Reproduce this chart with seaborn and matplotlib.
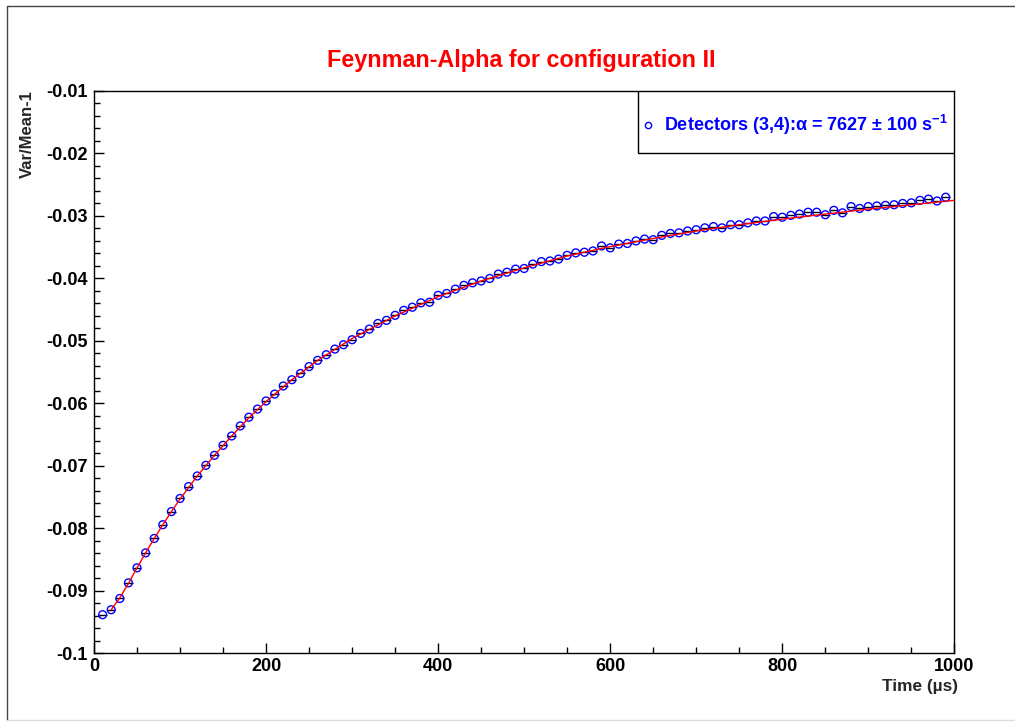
import matplotlib
matplotlib.use("Agg")
import matplotlib.pyplot as plt
import seaborn as sns
from matplotlib.lines import Line2D
from matplotlib.patches import Rectangle

# time bins (us) and measured Var/Mean-1
time_us = [10, 20, 30, 40, 50, 60, 70, 80, 90, 100,
           110, 120, 130, 140, 150, 160, 170, 180, 190, 200,
           210, 220, 230, 240, 250, 260, 270, 280, 290, 300,
           310, 320, 330, 340, 350, 360, 370, 380, 390, 400,
           410, 420, 430, 440, 450, 460, 470, 480, 490, 500,
           510, 520, 530, 540, 550, 560, 570, 580, 590, 600,
           610, 620, 630, 640, 650, 660, 670, 680, 690, 700,
           710, 720, 730, 740, 750, 760, 770, 780, 790, 800,
           810, 820, 830, 840, 850, 860, 870, 880, 890, 900,
           910, 920, 930, 940, 950, 960, 970, 980, 990]
var_mean = [-0.0938, -0.0930, -0.0912, -0.0887, -0.0863, -0.0839, -0.0816, -0.0794, -0.0773, -0.0752,
            -0.0733, -0.0716, -0.0699, -0.0683, -0.0667, -0.0652, -0.0636, -0.0622, -0.0609, -0.0596,
            -0.0585, -0.0572, -0.0562, -0.0552, -0.0541, -0.0531, -0.0522, -0.0513, -0.0506, -0.0498,
            -0.0488, -0.0481, -0.0472, -0.0467, -0.0459, -0.0451, -0.0446, -0.0439, -0.0438, -0.0427,
            -0.0424, -0.0417, -0.0411, -0.0407, -0.0404, -0.0400, -0.0393, -0.0390, -0.0385, -0.0384,
            -0.0377, -0.0373, -0.0372, -0.0369, -0.0363, -0.0359, -0.0358, -0.0356, -0.0348, -0.0351,
            -0.0345, -0.0344, -0.0340, -0.0337, -0.0338, -0.0331, -0.0328, -0.0327, -0.0324, -0.0322,
            -0.0319, -0.0317, -0.0319, -0.0314, -0.0314, -0.0311, -0.0308, -0.0308, -0.0301, -0.0302,
            -0.0299, -0.0297, -0.0294, -0.0294, -0.0298, -0.0291, -0.0295, -0.0285, -0.0288, -0.0285,
            -0.0284, -0.0283, -0.0282, -0.0280, -0.0279, -0.0275, -0.0273, -0.0276, -0.0270]

# fitted curve
fit_t = [20, 30, 40, 50, 60, 70, 80, 90, 100, 120, 140, 160, 180, 200, 230, 260,
         300, 350, 400, 450, 500, 550, 600, 650, 700, 750, 800, 850, 900, 950, 1000]
fit_v = [-0.0930, -0.0911, -0.0888, -0.0863, -0.0839, -0.0816, -0.0794, -0.0773, -0.0753,
         -0.0716, -0.0683, -0.0652, -0.0623, -0.0597, -0.0562, -0.0531, -0.0496, -0.0460,
         -0.0429, -0.0404, -0.0383, -0.0364, -0.0349, -0.0336, -0.0324, -0.0314, -0.0305,
         -0.0297, -0.0289, -0.0282, -0.0275]

x_ticks = [0, 200, 400, 600, 800, 1000]
y_ticks = [-0.1, -0.09, -0.08, -0.07, -0.06, -0.05, -0.04, -0.03, -0.02, -0.01]
y_labels = ["-0.1", "-0.09", "-0.08", "-0.07", "-0.06", "-0.05", "-0.04", "-0.03", "-0.02", "-0.01"]

sns.set_style("ticks")
plt.rcParams["font.family"] = ["Liberation Sans", "DejaVu Sans"]
plt.rcParams["font.weight"] = "bold"
plt.rcParams["mathtext.fontset"] = "custom"
plt.rcParams["mathtext.rm"] = "Liberation Sans"
plt.rcParams["mathtext.bf"] = "Liberation Sans:bold"

fig = plt.figure(figsize=(10.15, 7.22), dpi=100)
ax = fig.add_axes([0.0926, 0.0949, 0.8476, 0.7791])

ax.errorbar(time_us, var_mean, xerr=5, fmt="none", ecolor="black", elinewidth=1)
sns.scatterplot(x=time_us, y=var_mean, marker="o", s=32, facecolor="none",
                edgecolor="blue", linewidth=1, ax=ax, zorder=3)
sns.lineplot(x=fit_t, y=fit_v, color="red", linewidth=1, ax=ax, zorder=4)

ax.set_xlim(0, 1000)
ax.set_ylim(-0.1, -0.01)
ax.set_xticks(x_ticks)
ax.set_xticklabels([str(v) for v in x_ticks])
ax.set_xticks(range(0, 1001, 50), minor=True)
ax.set_yticks(y_ticks)
ax.set_yticklabels(y_labels)
ax.set_yticks([-0.1 + 0.002 * i for i in range(46)], minor=True)
ax.tick_params(which="both", direction="in", top=False, right=False,
               width=1, labelsize=13, colors="black")
ax.tick_params(axis="y", which="both", pad=4.8)
ax.tick_params(axis="x", which="both", pad=3.2)
ax.tick_params(which="major", length=7.5)
ax.tick_params(which="minor", length=4.2)
for s in ax.spines.values():
    s.set_color("black")
    s.set_linewidth(1)
ax.set_xlabel("")
ax.set_ylabel("")

# legend box
ax.add_patch(Rectangle((0.6323, 0.8899), 0.3677, 0.1101, transform=ax.transAxes,
                       facecolor="white", edgecolor="black", linewidth=1, zorder=5))
ax.plot([0.644], [0.9396], marker="o", markersize=4.5, markerfacecolor="none",
        markeredgecolor="blue", markeredgewidth=1, transform=ax.transAxes, zorder=6)
ax.text(0.6625, 0.9400, "Detectors (3,4):α = 7627 ± 100 s$^{\\mathbf{-1}}$",
        transform=ax.transAxes, color="blue", fontsize=13, fontweight="bold",
        ha="left", va="center", zorder=6)

fig.text(0.5133, 0.9076, "Feynman-Alpha for configuration II", color="red",
         fontsize=16.8, fontweight="bold", ha="center", va="baseline")
fig.text(0.9438, 0.0434, "Time (µs)", fontsize=12.4, fontweight="bold",
         ha="right", va="baseline")
fig.text(0.0271, 0.8753, "Var/Mean-1", fontsize=12, fontweight="bold",
         rotation=90, ha="center", va="top")

# canvas frame
fig.add_artist(Line2D([0.0069, 0.0069], [0.0021, 0.9917], color="#444444", linewidth=1))
fig.add_artist(Line2D([0.0069, 1.0], [0.9917, 0.9917], color="#444444", linewidth=1))
fig.add_artist(Line2D([0.0069, 1.0], [0.0021, 0.0021], color="#dddddd", linewidth=1))

fig.savefig("out.png", dpi=100)
